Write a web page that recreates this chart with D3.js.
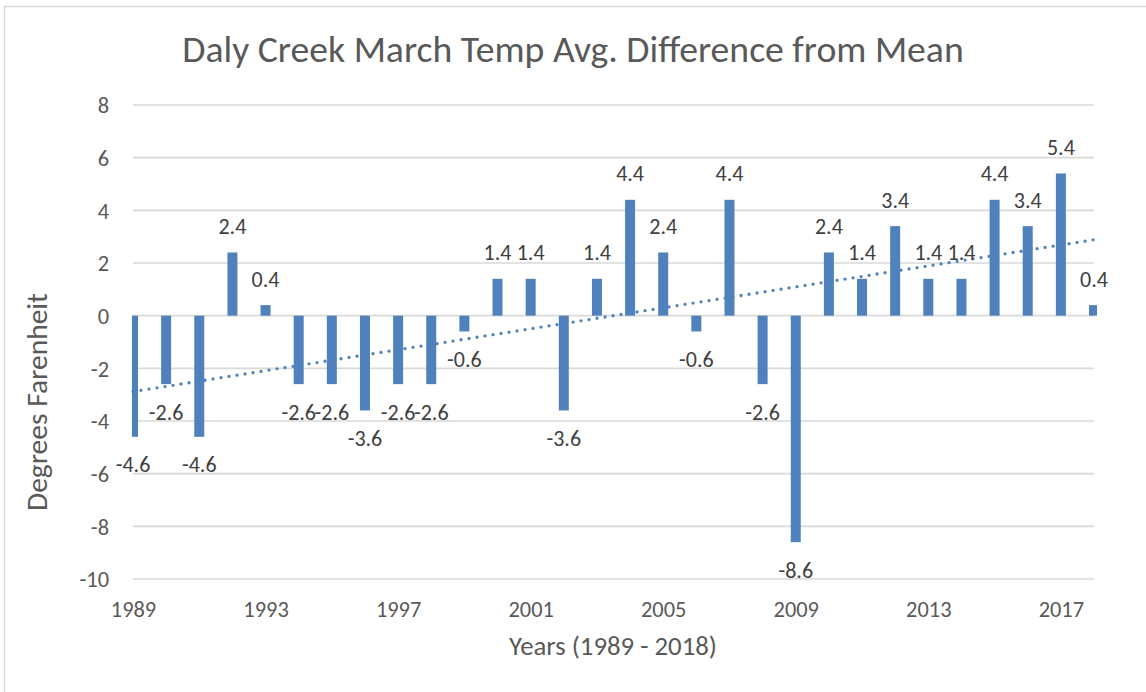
<!DOCTYPE html>
<html>
<head>
<meta charset="utf-8">
<script src="https://cdn.jsdelivr.net/npm/d3@7"></script>
<style>
  html, body { margin: 0; padding: 0; background: #ffffff; }
  svg { display: block; font-family: Carlito, Lato, "Open Sans", sans-serif; }
</style>
</head>
<body>
<svg id="chart" width="1146" height="692"></svg>
<script>
// ---- data ----
const years = [1989,1990,1991,1992,1993,1994,1995,1996,1997,1998,1999,2000,2001,2002,2003,
               2004,2005,2006,2007,2008,2009,2010,2011,2012,2013,2014,2015,2016,2017,2018];
const values = [-4.6,-2.6,-4.6,2.4,0.4,-2.6,-2.6,-3.6,-2.6,-2.6,-0.6,1.4,1.4,-3.6,1.4,
                4.4,2.4,-0.6,4.4,-2.6,-8.6,2.4,1.4,3.4,1.4,1.4,4.4,3.4,5.4,0.4];
const xTicks = [1989,1993,1997,2001,2005,2009,2013,2017];
const yTicks = [-10,-8,-6,-4,-2,0,2,4,6,8];
const titleText = "Daly Creek March Temp Avg. Difference from Mean";
const xTitle = "Years (1989 - 2018)";
const yTitle = "Degrees Farenheit";

// ---- layout ----
const svg = d3.select("#chart");
const plotL = 133, plotR = 1094, plotT = 105, plotB = 579;
const x = d3.scaleLinear().domain([1989, 2018]).range([plotL, plotR]);
const y = d3.scaleLinear().domain([-10, 8]).range([plotB, plotT]);
const barColor = "#4F81BD";
const textColor = "#595959";
const labelColor = "#404040";
const hyph = s => s.replace("\u2212", "-");

// chart border
svg.append("rect").attr("x", 4.5).attr("y", 6.5).attr("width", 1160).attr("height", 700)
  .attr("fill", "none").attr("stroke", "#D9D9D9").attr("stroke-width", 1.5);

// title
svg.append("text").attr("x", 573).attr("y", 62).attr("text-anchor", "middle")
  .attr("fill", textColor).attr("font-size", 37.7).text(titleText);

// gridlines
svg.append("g").selectAll("line").data(yTicks).join("line")
  .attr("x1", plotL).attr("x2", plotR)
  .attr("y1", d => y(d)).attr("y2", d => y(d))
  .attr("stroke", "#D9D9D9").attr("stroke-width", 1.6);

// y axis
const yAxis = d3.axisLeft(y).tickValues(yTicks).tickSize(0).tickPadding(0)
  .tickFormat(d => hyph(d3.format("d")(d)));
const gy = svg.append("g").attr("transform", `translate(${plotL - 24},0)`).call(yAxis);
gy.select(".domain").remove();
gy.selectAll("text").attr("fill", textColor).attr("font-size", 22.4).attr("dy", "0.35em");
gy.attr("font-family", null).attr("font-size", null);

// x axis
const xAxis = d3.axisBottom(x).tickValues(xTicks).tickSize(0).tickPadding(0).tickFormat(d3.format("d"));
const gx = svg.append("g").attr("transform", `translate(0,${plotB})`).call(xAxis);
gx.select(".domain").remove();
gx.selectAll("text").attr("fill", textColor).attr("font-size", 22.4).attr("dy", null).attr("y", 38);
gx.attr("font-family", null).attr("font-size", null);

// clip for bars
svg.append("clipPath").attr("id", "plotclip").append("rect")
  .attr("x", plotL - 1).attr("y", 0).attr("width", plotR - plotL + 4).attr("height", 692);

const bw = 10;
svg.append("g").attr("clip-path", "url(#plotclip)").selectAll("rect").data(years).join("rect")
  .attr("x", (d) => x(d) - bw / 2)
  .attr("width", bw)
  .attr("y", (d, i) => Math.min(y(values[i]), y(0)))
  .attr("height", (d, i) => Math.abs(y(values[i]) - y(0)))
  .attr("fill", barColor);

// linear trendline (least squares over the data)
const n = years.length;
const mx = d3.mean(years), my = d3.mean(values);
let sxy = 0, sxx = 0;
years.forEach((yr, i) => { sxy += (yr - mx) * (values[i] - my); sxx += (yr - mx) * (yr - mx); });
const slope = sxy / sxx, intercept = my - slope * mx;
const trendYears = [years[0], years[n - 1]];
svg.append("path")
  .attr("d", d3.line().x(d => x(d)).y(d => y(intercept + slope * d))(trendYears))
  .attr("fill", "none").attr("stroke", barColor).attr("stroke-width", 3.3)
  .attr("stroke-linecap", "round").attr("stroke-dasharray", "0 8.1");

// data labels
svg.append("g").selectAll("text").data(years).join("text")
  .attr("x", d => x(d))
  .attr("y", (d, i) => values[i] >= 0 ? y(values[i]) - 18.5 : y(values[i]) + 35.5)
  .attr("text-anchor", "middle")
  .attr("fill", labelColor).attr("font-size", 22)
  .text((d, i) => hyph(d3.format(".1f")(values[i])));

// axis titles
svg.append("text").attr("x", 613).attr("y", 655).attr("text-anchor", "middle")
  .attr("fill", textColor).attr("font-size", 26.8).text(xTitle);
svg.append("text").attr("transform", "translate(47,402) rotate(-90)").attr("text-anchor", "middle")
  .attr("fill", textColor).attr("font-size", 29.5).text(yTitle);
</script>
</body>
</html>
